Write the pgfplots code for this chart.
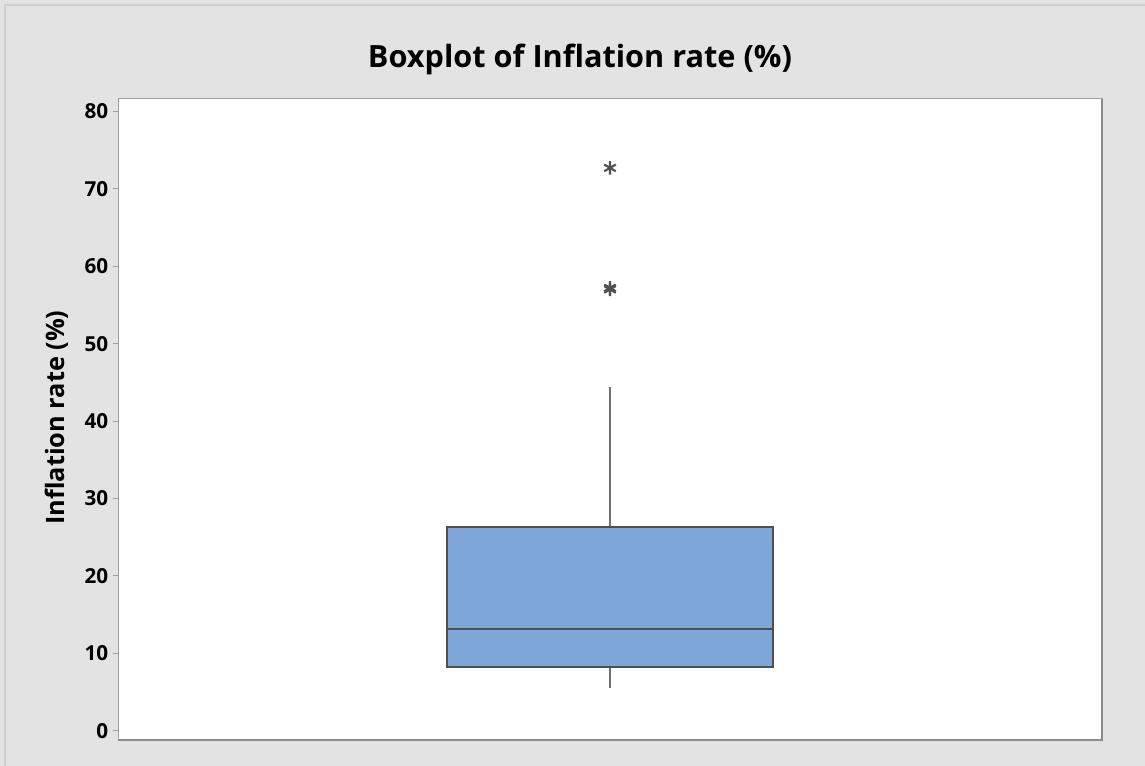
\documentclass[border=0pt]{standalone}
\usepackage{pgfplots}
\pgfplotsset{compat=1.18}
\usepackage{fontspec}
\setmainfont{Open Sans}
\definecolor{bgc}{HTML}{E3E3E3}
\definecolor{framec}{HTML}{CFCFCF}
\definecolor{borderc}{HTML}{A0A0A0}
\definecolor{shadowc}{HTML}{8C8C8C}
\definecolor{boxfill}{HTML}{7EA7D8}
\definecolor{boxline}{HTML}{4F4F4F}
\definecolor{whiskc}{HTML}{6F6F6F}
\definecolor{outc}{HTML}{505050}
\begin{document}
\begin{tikzpicture}
\useasboundingbox (0,0) rectangle (858.75pt,574.5pt);
\fill[bgc] (0,0) rectangle (858.75pt,574.5pt);
\draw[framec, line width=1.5pt] (3.5pt,0) -- (3.5pt,571pt) -- (858.75pt,571pt);
\node[font=\fontsize{23}{27}\selectfont\bfseries, anchor=center] at (435pt,530pt) {Boxplot of Inflation rate (\%)};
\begin{axis}[
  name=ax,
  at={(88.5pt,19.5pt)}, anchor=south west,
  scale only axis, width=738pt, height=480.75pt,
  xmin=0, xmax=2, ymin=-1.2, ymax=81.6,
  xtick=\empty,
  ytick={0,10,20,30,40,50,60,70,80},
  ytick pos=left, tick align=outside,
  major tick length=3.75pt,
  tick style={borderc, line width=0.75pt},
  axis line style={borderc, line width=0.75pt},
  axis background/.style={fill=white},
  /pgf/number format/assume math mode=true,
  yticklabel style={font=\fontsize{15.5}{18}\selectfont\bfseries, text=black},
  ylabel={Inflation rate (\%)},
  every axis y label/.style={at={(axis description cs:-0.062,0.503)}, rotate=90, anchor=center, font=\fontsize{19}{23}\selectfont\bfseries},
]
% whiskers
\addplot[whiskc, line width=1.3pt] coordinates {(1,26.3) (1,44.4)};
\addplot[whiskc, line width=1.3pt] coordinates {(1,5.5) (1,8.2)};
% box (Q1 = 8.2, Q3 = 26.3)
\addplot[draw=boxline, fill=boxfill, line width=1.4pt] coordinates {(0.6685,8.2) (1.3315,8.2) (1.3315,26.3) (0.6685,26.3)} -- cycle;
% median
\addplot[boxline, line width=1.4pt] coordinates {(0.6685,13.1) (1.3315,13.1)};
% outliers
\addplot[only marks, mark=asterisk, mark size=5pt, mark options={draw=outc, line width=1.6pt}] coordinates {(1,72.7) (1,57.0) (1,57.2)};
\end{axis}
\draw[shadowc, line width=1.5pt] (ax.south west) -- (ax.south east) -- (ax.north east);
\end{tikzpicture}
\end{document}
